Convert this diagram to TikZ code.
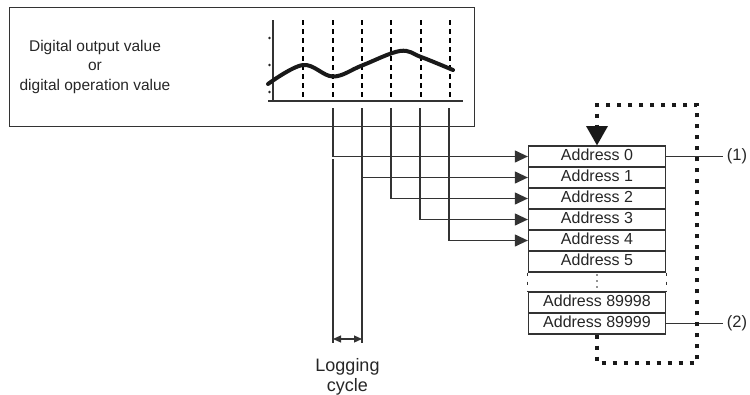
\documentclass[tikz,border=0pt]{standalone}
\usepackage{fontspec}
\setmainfont{Liberation Sans}
\usetikzlibrary{arrows.meta}
\begin{document}
\begin{tikzpicture}[x=1pt,y=-1pt,
  every node/.style={font=\fontsize{15.5}{19.5}\selectfont, text=black!85},
  thinline/.style={line width=1.2pt, draw=black!80},
  cell/.style={draw=black!80, line width=1.3pt, minimum width=137pt, minimum height=21pt, inner sep=0pt, text height=11.5pt, text depth=3pt, font=\fontsize{16}{19}\selectfont},
  arr/.style={thinline, -{Triangle[length=13pt,width=12pt]}},
  dashv/.style={line width=1.2pt, draw=black, dash pattern=on 4.5pt off 4.5pt},
  dotpath/.style={line width=4pt, draw=black!90, dash pattern=on 4pt off 7pt},
  curve/.style={line width=4pt, draw=black!90, line cap=round},
  numlbl/.style={font=\fontsize{16.5}{19}\selectfont, inner sep=4pt}]
\useasboundingbox (0,0) rectangle (750,394);
% outer panel
\node (panel) [draw=black!80, line width=1.4pt, minimum width=465pt, minimum height=119pt, anchor=north west, inner sep=0pt] at (9,7) {};
\node (lbl) [align=center] at (95,66.5) {Digital output value\\or\\digital operation value};
% graph
\coordinate (ytop) at (273,20);
\coordinate (yb) at (273,101);
\coordinate (xl) at (268,101);
\coordinate (xr) at (463,101);
\draw[thinline] (ytop) -- (yb);
\draw[thinline] (xl) -- (xr);
\foreach \x in {303,333,362,391,421,450} {
  \draw[dashv] (\x,20) -- (\x,101);
}
\foreach \y in {38,65,92} { \fill[black!85] (269.5,\y) circle (1.3pt); }
\draw[curve] plot[smooth, tension=0.6] coordinates {(268,84) (303,65) (333,76.5) (362,65.5) (400,51) (421,57) (453,70)};
% sample coordinates
\coordinate (s0) at (333,108);
\coordinate (s1) at (362,108);
\coordinate (s2) at (391,108);
\coordinate (s3) at (420,108);
\coordinate (s4) at (449,108);
% memory
\node[cell] (a0) at (597,156.5) {Address 0};
\node[cell] (a1) at (597,177.5) {Address 1};
\node[cell] (a2) at (597,198.5) {Address 2};
\node[cell] (a3) at (597,219.5) {Address 3};
\node[cell] (a4) at (597,240.5) {Address 4};
\node[cell] (a5) at (597,261.5) {Address 5};
\node[cell] (a89998) at (597,302.5) {Address 89998};
\node[cell] (a89999) at (597,323.5) {Address 89999};
\draw[line width=1.2pt, draw=black!80, dash pattern=on 3pt off 6pt] (a5.south west) -- (a89998.north west);
\draw[line width=1.2pt, draw=black!80, dash pattern=on 3pt off 6pt] (a5.south east) -- (a89998.north east);
\foreach \y in {275,281,287} { \fill[black!85] (597,\y) circle (0.9pt); }
% arrows
\draw[arr] (s0) |- (a0.west);
\draw[arr] (s1) |- (a1.west);
\draw[arr] (s2) |- (a2.west);
\draw[arr] (s3) |- (a3.west);
\draw[arr] (s4) |- (a4.west);
% logging cycle
\coordinate (c0t) at (333,159);
\coordinate (c0b) at (333,343);
\coordinate (c1t) at (362,178);
\coordinate (c1b) at (362,343);
\draw[thinline] (c0t) -- (c0b);
\draw[thinline] (c1t) -- (c1b);
\coordinate (m0) at (333,339);
\coordinate (m1) at (362,339);
\draw[thinline, {Triangle[length=8pt,width=7pt]}-{Triangle[length=8pt,width=7pt]}] (m0) -- (m1);
\node (logc) [align=center, font=\fontsize{18}{20}\selectfont] at (347.5,376.5) {Logging\\cycle};
% labels
\node[numlbl] (lab1) at (737,156.5) {(1)};
\node[numlbl] (lab2) at (737,323.5) {(2)};
\draw[thinline] (a0.east) -- (lab1.west);
\draw[thinline] (a89999.east) -- (lab2.west);
% dotted loop
\coordinate (d1) at (597,363);
\coordinate (d2) at (697,105);
\draw[dotpath] (a89999.south) -- (d1) -| (d2) -| (597,126);
\fill[black!90] (586,126) -- (608,126) -- (a0.north) -- cycle;
\end{tikzpicture}
\end{document}
